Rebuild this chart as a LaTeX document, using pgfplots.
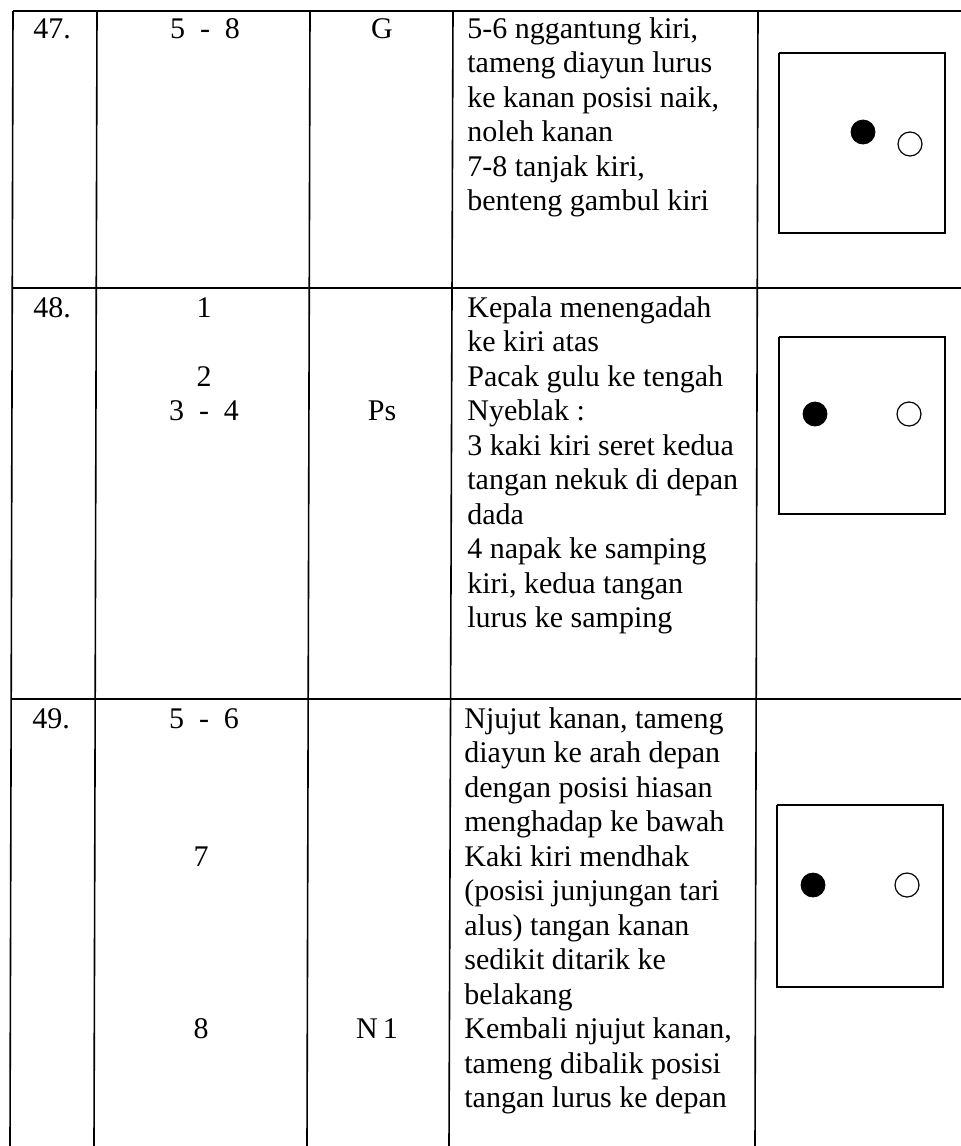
\documentclass[border=0pt]{standalone}
\usepackage{fontspec}
\setmainfont{Liberation Serif}
\usepackage{pgfplots}
\pgfplotsset{compat=1.18}
\newcommand\tl[3]{\node[anchor=base west,inner sep=0pt] at (axis cs:#1,#2) {#3};}
\newcommand\tc[3]{\node[anchor=base,inner sep=0pt] at (axis cs:#1,#2) {#3};}
\begin{document}
\begin{tikzpicture}[font=\fontsize{15pt}{17pt}\selectfont]
\begin{axis}[
  width=480.5pt, height=573pt, scale only axis,
  xmin=0, xmax=961, ymin=0, ymax=1146, y dir=reverse,
  hide axis, clip=false]
% table rules
\addplot[black, line width=0.8pt] coordinates {(13,11) (961,11)};
\addplot[black, line width=0.8pt] coordinates {(13,288) (961,288)};
\addplot[black, line width=0.8pt] coordinates {(12,699) (961,699)};
\addplot[black, line width=0.8pt] coordinates {(13,11) (10,1146)};
\addplot[black, line width=0.8pt] coordinates {(97,11) (94,1146)};
\addplot[black, line width=0.8pt] coordinates {(310,11) (307,1146)};
\addplot[black, line width=0.8pt] coordinates {(453,11) (449,1146)};
\addplot[black, line width=0.8pt] coordinates {(758,11) (755,1146)};
% diagram boxes
\addplot[black, line width=0.75pt] coordinates {(779,53) (945,53) (945,233) (779,233) (779,53)};
\addplot[black, line width=0.75pt] coordinates {(779,337) (945,337) (945,514) (779,514) (779,337)};
\addplot[black, line width=0.75pt] coordinates {(777,805) (943,805) (943,987) (777,987) (777,805)};
% dancers
\addplot[only marks, mark=*, mark size=6pt, black] coordinates {(863,132) (815,414) (813,885)};
\addplot[only marks, mark=o, mark size=6pt, black, mark options={line width=0.6pt}] coordinates {(910,144) (909,414) (907,885)};
% row 47
\tl{33}{38}{47.}
\tc{205}{38}{5~~-~~8}
\tc{382}{38}{G}
\tl{467}{38}{5-6 nggantung kiri,}
\tl{467}{72.5}{tameng diayun lurus}
\tl{467}{107}{ke kanan posisi naik,}
\tl{467}{141.5}{noleh kanan}
\tl{467}{176}{7-8 tanjak kiri,}
\tl{467}{210.5}{benteng gambul kiri}
% row 48
\tl{33}{317}{48.}
\tc{204}{317}{1}
\tc{204}{386}{2}
\tc{204}{420.5}{3~~-~~4}
\tc{382}{420.5}{Ps}
\tl{467}{317}{Kepala menengadah}
\tl{467}{351.5}{ke kiri atas}
\tl{467}{386}{Pacak gulu ke tengah}
\tl{467}{420.5}{Nyeblak :}
\tl{467}{455}{3 kaki kiri seret kedua}
\tl{467}{489.5}{tangan nekuk di depan}
\tl{467}{524}{dada}
\tl{467}{558.5}{4 napak ke samping}
\tl{467}{593}{kiri, kedua tangan}
\tl{467}{627.5}{lurus ke samping}
% row 49
\tl{32}{728}{49.}
\tc{204}{728}{5~~-~~6}
\tc{201}{866}{7}
\tc{201}{1038.5}{8}
\tc{377}{1038.5}{N\,1}
\tl{464}{728}{Njujut kanan, tameng}
\tl{464}{762.5}{diayun ke arah depan}
\tl{464}{797}{dengan posisi hiasan}
\tl{464}{831.5}{menghadap ke bawah}
\tl{464}{866}{Kaki kiri mendhak}
\tl{464}{900.5}{(posisi junjungan tari}
\tl{464}{935}{alus) tangan kanan}
\tl{464}{969.5}{sedikit ditarik ke}
\tl{464}{1004}{belakang}
\tl{464}{1038.5}{Kembali njujut kanan,}
\tl{464}{1073}{tameng dibalik posisi}
\tl{464}{1107.5}{tangan lurus ke depan}
\end{axis}
\pgfresetboundingbox
\path (0,0) rectangle (480.5pt,573pt);
\end{tikzpicture}
\end{document}
